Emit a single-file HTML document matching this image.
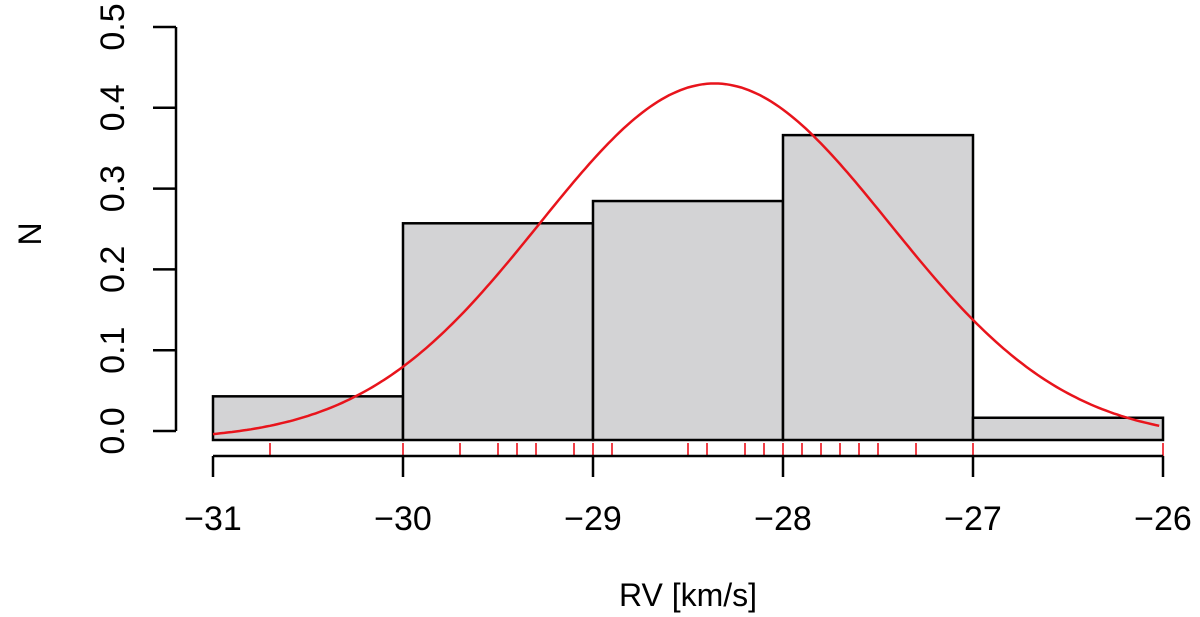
<!DOCTYPE html>
<html><head><meta charset="utf-8"><style>
html,body{margin:0;padding:0;background:#fff;}
svg{display:block;font-family:"Liberation Sans",sans-serif;}
</style></head><body>
<svg id="c" width="1200" height="617" viewBox="0 0 1200 617"></svg>
<script>
const binEdges=[-31,-30,-29,-28,-27,-26];
const binDensity=[0.053,0.263,0.290,0.370,0.027];
const rugValues=[-30.7,-30.0,-29.7,-29.5,-29.4,-29.3,-29.1,-29.0,-28.9,-28.5,-28.4,-28.2,-28.1,-28.0,-27.9,-27.8,-27.7,-27.6,-27.5,-27.3,-27.0,-26.0];
const xTicks=[-31,-30,-29,-28,-27,-26];
const yTicks=[0.0,0.1,0.2,0.3,0.4,0.5];
const fitMean=-28.36, fitSd=0.922;
const NS="http://www.w3.org/2000/svg";
const svg=document.getElementById('c');
const X=v=>213+(v+31)*190;
const Y=v=>440-v*824;
const YA=v=>431-v*808;
function el(t,a,p){const e=document.createElementNS(NS,t);for(const k in a)e.setAttribute(k,a[k]);(p||svg).appendChild(e);return e;}
for(let i=0;i<binDensity.length;i++){
  const r=el('rect',{x:X(binEdges[i]),y:Y(binDensity[i]),width:X(binEdges[i+1])-X(binEdges[i]),height:Y(0)-Y(binDensity[i]),fill:'#d3d3d5',stroke:'#000','stroke-width':2.5});
  
  
}
let d='';
for(let x=-31;x<=-26.0001;x+=0.02){const v=Math.exp(-0.5*((x-fitMean)/fitSd)**2)/(fitSd*Math.sqrt(2*Math.PI));d+=(d?'L':'M')+X(x).toFixed(1)+','+Y(v).toFixed(1);}
const c=el('path',{d:d,fill:'none',stroke:'#e8141c','stroke-width':2.5});


rugValues.forEach((v,i)=>{const l=el('line',{x1:X(v),x2:X(v),y1:443,y2:456,stroke:'#f04048','stroke-width':2});

});
const xa=el('g',{});


el('line',{x1:X(-31),x2:X(-26),y1:456,y2:456,stroke:'#000','stroke-width':2.5},xa);
xTicks.forEach(v=>{el('line',{x1:X(v),x2:X(v),y1:456,y2:477,stroke:'#000','stroke-width':2.5},xa);
const t=el('text',{x:X(v),y:530,'text-anchor':'middle','font-size':34},xa);t.textContent='\u2212'+Math.abs(v);

});
const ya=el('g',{});


el('line',{x1:176,x2:176,y1:YA(0),y2:YA(0.5),stroke:'#000','stroke-width':2.5},ya);
yTicks.forEach(v=>{el('line',{x1:153,x2:176,y1:YA(v),y2:YA(v),stroke:'#000','stroke-width':2.5},ya);
const t=el('text',{x:0,y:0,'text-anchor':'middle','font-size':34,transform:`translate(124,${YA(v)}) rotate(-90)`},ya);t.textContent=v.toFixed(1);

});
const xt=el('text',{x:688,y:606,'text-anchor':'middle','font-size':32});xt.textContent='RV [km/s]';


const yt=el('text',{x:0,y:0,'text-anchor':'middle','font-size':32,transform:'translate(41,234) rotate(-90)'});yt.textContent='N';


</script>
</body></html>
